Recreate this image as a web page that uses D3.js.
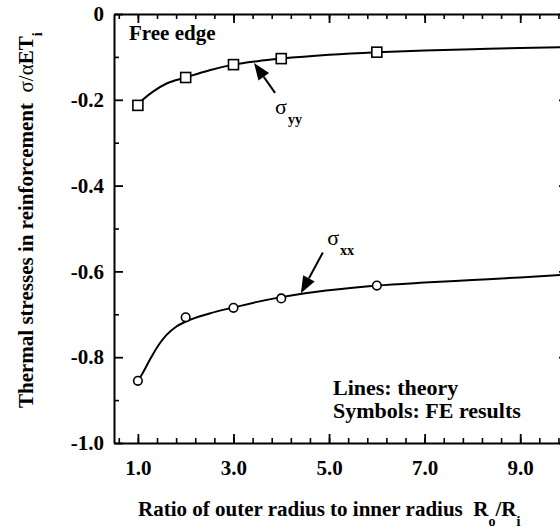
<!DOCTYPE html>
<html>
<head>
<meta charset="utf-8">
<script src="https://cdn.jsdelivr.net/npm/d3@7"></script>
<style>
  body { margin: 0; background: #fff; }
  svg { display: block; }
  text { font-family: "Liberation Serif", "Times New Roman", serif; fill: #000; }
</style>
</head>
<body>
<svg width="560" height="531"></svg>
<script>
var svg = d3.select("svg");
var serif = "'Liberation Serif', 'Times New Roman', serif";

// FE results (symbols)
var feX = [1, 2, 3, 4, 6];
var feSyy = [-0.213, -0.148, -0.118, -0.104, -0.089];
var feSxx = [-0.855, -0.707, -0.685, -0.663, -0.633];

// theory (lines)
var thYyX = [1, 1.1, 1.3, 1.6, 2, 2.5, 3, 3.5, 4, 5, 6, 7, 8, 9, 10];
var thYy = [-0.210, -0.200, -0.182, -0.162, -0.148, -0.131, -0.118, -0.110, -0.104, -0.095, -0.089, -0.085, -0.082, -0.079, -0.077];
var thXxX = [1, 1.08, 1.25, 1.43, 1.6, 1.8, 2, 2.5, 3, 3.5, 4, 4.5, 5.5, 6, 7, 8, 9, 10];
var thXx = [-0.855, -0.841, -0.806, -0.772, -0.748, -0.729, -0.717, -0.698, -0.684, -0.671, -0.660, -0.651, -0.638, -0.633, -0.626, -0.620, -0.614, -0.607];

// ticks
var xMajor = [1, 3, 5, 7, 9];
var xMinor = d3.range(0.6, 10, 0.4);
var yMajor = [0, -0.2, -0.4, -0.6, -0.8, -1.0];
var yMinor = [-0.1, -0.3, -0.5, -0.7, -0.9];

var x = d3.scaleLinear().domain([0.5, 10]).range([114, 568]);
var y = d3.scaleLinear().domain([-1, 0]).range([443, 14]);

var fmtX = d3.format(".1f");
function fmtY(d) { return d === 0 ? "0" : fmtX(d).replace("\u2212", "-"); }

function axisPair(axisFn, scale, pos, major, minor, labels, fmt) {
  var g1 = svg.append("g").attr("transform", pos)
    .call(axisFn(scale).tickValues(minor).tickSize(-5).tickFormat(""));
  g1.select(".domain").remove();
  var ax = axisFn(scale).tickValues(major).tickSizeInner(-9).tickSizeOuter(0);
  if (labels) ax.tickFormat(fmt).tickPadding(labels); else ax.tickFormat("");
  var g2 = svg.append("g").attr("transform", pos).call(ax)
    .attr("font-family", serif).attr("font-size", 21).attr("font-weight", "bold");
  g2.selectAll("text").attr("font-family", serif).attr("fill", "#000");
  g2.select(".domain").attr("stroke", "#000").attr("stroke-width", 2);
  g1.selectAll("line").attr("stroke", "#000").attr("stroke-width", 1.6);
  g2.selectAll("line").attr("stroke", "#000").attr("stroke-width", 1.8);
  return g2;
}

axisPair(d3.axisBottom, x, "translate(0,443)", xMajor, xMinor, 17, fmtX);
axisPair(d3.axisTop, x, "translate(0,14)", xMajor, xMinor, 0);
axisPair(d3.axisLeft, y, "translate(114,0)", yMajor, yMinor, 10, fmtY);
axisPair(d3.axisRight, y, "translate(568,0)", yMajor, yMinor, 0);

// theory lines
var line = d3.line().x(function (d) { return x(d[0]); }).y(function (d) { return y(d[1]); })
  .curve(d3.curveMonotoneX);

svg.append("path").datum(d3.zip(thYyX, thYy))
  .attr("d", line).attr("fill", "none").attr("stroke", "#000").attr("stroke-width", 2);
svg.append("path").datum(d3.zip(thXxX, thXx))
  .attr("d", line).attr("fill", "none").attr("stroke", "#000").attr("stroke-width", 2);

// FE symbols
svg.append("g").selectAll("rect").data(d3.zip(feX, feSyy)).enter().append("rect")
  .attr("x", function (d) { return x(d[0]) - 5; })
  .attr("y", function (d) { return y(d[1]) - 5; })
  .attr("width", 10).attr("height", 10)
  .attr("fill", "#fff").attr("stroke", "#000").attr("stroke-width", 1.6);

svg.append("g").selectAll("circle").data(d3.zip(feX, feSxx)).enter().append("circle")
  .attr("cx", function (d) { return x(d[0]); })
  .attr("cy", function (d) { return y(d[1]); })
  .attr("r", 4.3)
  .attr("fill", "#fff").attr("stroke", "#000").attr("stroke-width", 1.6);

// arrows (data coords: tail -> tip)
function arrow(t0, t1) {
  var x0 = x(t0[0]), y0 = y(t0[1]), x1 = x(t1[0]), y1 = y(t1[1]);
  var dx = x1 - x0, dy = y1 - y0, L = Math.sqrt(dx * dx + dy * dy);
  var ux = dx / L, uy = dy / L, hl = 17, hw = 6.5;
  var bx = x1 - ux * hl, by = y1 - uy * hl;
  svg.append("line").attr("x1", x0).attr("y1", y0).attr("x2", bx).attr("y2", by)
    .attr("stroke", "#000").attr("stroke-width", 2);
  svg.append("polygon")
    .attr("points", [[x1, y1], [bx - uy * hw, by + ux * hw], [bx + uy * hw, by - ux * hw]].join(" "))
    .attr("fill", "#000");
}
arrow([3.87, -0.184], [3.43, -0.114]);
arrow([4.87, -0.556], [4.41, -0.651]);

// sigma labels
function sigma(px, py, sub) {
  var t = svg.append("text").attr("x", x(px)).attr("y", y(py)).attr("font-size", 22);
  t.append("tspan").text("\u03c3");
  t.append("tspan").attr("dy", 10).attr("dx", 1).attr("font-size", 14).attr("font-weight", "bold").text(sub);
}
sigma(3.87, -0.2336, "yy");
sigma(4.96, -0.539, "xx");

// text annotations
svg.append("text").attr("x", 129).attr("y", 40)
  .attr("font-size", 21).attr("font-weight", "bold").text("Free edge");
svg.append("text").attr("x", 333).attr("y", 395)
  .attr("font-size", 22).attr("font-weight", "bold").text("Lines: theory");
svg.append("text").attr("x", 333).attr("y", 418)
  .attr("font-size", 22).attr("font-weight", "bold").text("Symbols: FE results");

// x title
var xt = svg.append("text").attr("x", 138).attr("y", 516)
  .attr("font-size", 21).attr("font-weight", "bold");
xt.append("tspan").text("Ratio of outer radius to inner radius\u00a0\u00a0R");
xt.append("tspan").attr("dy", 10).attr("font-size", 14).text("o");
xt.append("tspan").attr("dy", -10).text("/R");
xt.append("tspan").attr("dy", 10).attr("font-size", 14).text("i");

// y title
var yt = svg.append("text").attr("transform", "translate(33,408) rotate(-90)")
  .attr("font-size", 21).attr("font-weight", "bold");
yt.append("tspan").text("Thermal stresses in reinforcement\u00a0\u00a0");
yt.append("tspan").attr("font-weight", "normal").text("\u03c3/\u03b1");
yt.append("tspan").text("ET");
yt.append("tspan").attr("dy", 9).attr("font-size", 14).text("i");
</script>
</body>
</html>
